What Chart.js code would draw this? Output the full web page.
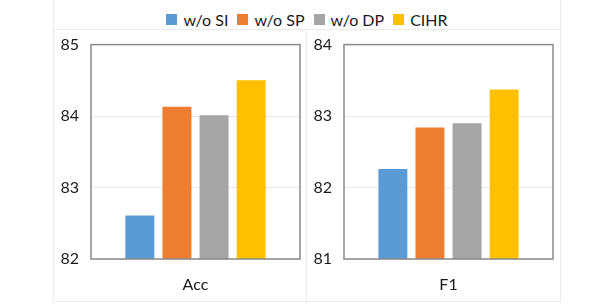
<!DOCTYPE html>
<html>
<head>
<meta charset="utf-8">
<script src="https://cdn.jsdelivr.net/npm/chart.js@4.4.1/dist/chart.umd.min.js"></script>
<style>
    html, body { margin: 0; padding: 0; background: #fff; }
    body { width: 614px; height: 308px; position: relative; overflow: hidden; font-family: Lato, "Open Sans", sans-serif; }
    .frame { position: absolute; left: 53px; top: -2px; width: 506px; height: 302px; border: 1px solid #ebebeb; }
    .hline { position: absolute; left: 53px; top: 29px; width: 507px; height: 1px; background: #ebebeb; }
    .vline { position: absolute; left: 306px; top: 29px; width: 1px; height: 272px; background: #ebebeb; }
    #legend { position: absolute; left: 53px; width: 508px; top: 9px; height: 20px; display: flex; justify-content: center; align-items: center; font-size: 16px; color: #1a1a1a; }
    #legend .item { display: flex; align-items: center; margin: 0 4.5px; }
    #legend .box { width: 11px; height: 11px; margin-right: 6px; }
    canvas { position: absolute; }
</style>
</head>
<body>
<div class="frame"></div>
<div class="hline"></div>
<div class="vline"></div>
<div id="legend"></div>
<canvas id="accChart" width="252" height="277" style="left:54px; top:23px;"></canvas>
<canvas id="f1Chart" width="253" height="277" style="left:307px; top:23px;"></canvas>
<script>
// series (one bar per variant in each panel)
const seriesNames = ["w/o SI", "w/o SP", "w/o DP", "CIHR"];
const seriesColors = ["#5B9BD5", "#ED7D31", "#A5A5A5", "#FFC000"];

// panel categories and values
const accLabels = ["Acc"];
const accValues = [82.61, 84.13, 84.01, 84.50];
const accTicks = [82, 83, 84, 85];

const f1Labels = ["F1"];
const f1Values = [82.26, 82.84, 82.90, 83.37];
const f1Ticks = [81, 82, 83, 84];

const FONT = "Lato, 'Open Sans', sans-serif";

// Box around the plot area, like the original spreadsheet chart
const plotBorder = {
    id: "plotBorder",
    afterDatasetsDraw(chart) {
        const { ctx, chartArea } = chart;
        ctx.save();
        ctx.strokeStyle = "#8a8a8a";
        ctx.lineWidth = 1.5;
        ctx.strokeRect(chartArea.left, chartArea.top,
            chartArea.right - chartArea.left, chartArea.bottom - chartArea.top);
        ctx.restore();
    },
};

function buildLegend() {
    const el = document.getElementById("legend");
    seriesNames.forEach(function (name, i) {
        const item = document.createElement("div");
        item.className = "item";
        const box = document.createElement("span");
        box.className = "box";
        box.style.background = seriesColors[i];
        const text = document.createElement("span");
        text.textContent = name;
        item.appendChild(box);
        item.appendChild(text);
        el.appendChild(item);
    });
}

const createPanel = function (canvasId, labels, values, ticks, rightPad) {
    const datasets = seriesNames.map(function (name, i) {
        return {
            label: name,
            data: [values[i]],
            backgroundColor: seriesColors[i],
            borderWidth: 0,
            barPercentage: 0.78,
            categoryPercentage: 0.71,
        };
    });
    const config = {
        type: "bar",
        data: { labels: labels, datasets: datasets },
        options: {
            responsive: false,
            animation: false,
            devicePixelRatio: 1,
            layout: { padding: { left: 0, right: rightPad, top: 0, bottom: 0 } },
            plugins: {
                legend: { display: false },
                tooltip: { enabled: false },
            },
            scales: {
                x: {
                    grid: { display: false, drawTicks: false },
                    border: { display: false },
                    ticks: {
                        color: "#1a1a1a",
                        padding: 16,
                        font: { family: FONT, size: 16 },
                    },
                    afterFit: function (scale) { scale.height = 41; },
                },
                y: {
                    min: ticks[0],
                    max: ticks[ticks.length - 1],
                    afterBuildTicks: function (scale) {
                        scale.ticks = ticks.map(function (v) { return { value: v }; });
                    },
                    grid: { color: "#e8e8e8", lineWidth: 1, drawTicks: false },
                    border: { display: false },
                    ticks: {
                        color: "#1a1a1a",
                        padding: 12,
                        font: { family: FONT, size: 16 },
                    },
                    afterFit: function (scale) { scale.width = 37; },
                },
            },
        },
        plugins: [plotBorder],
    };
    return new Chart(document.getElementById(canvasId).getContext("2d"), config);
};

buildLegend();
createPanel("accChart", accLabels, accValues, accTicks, 6);
createPanel("f1Chart", f1Labels, f1Values, f1Ticks, 7);
</script>
</body>
</html>
